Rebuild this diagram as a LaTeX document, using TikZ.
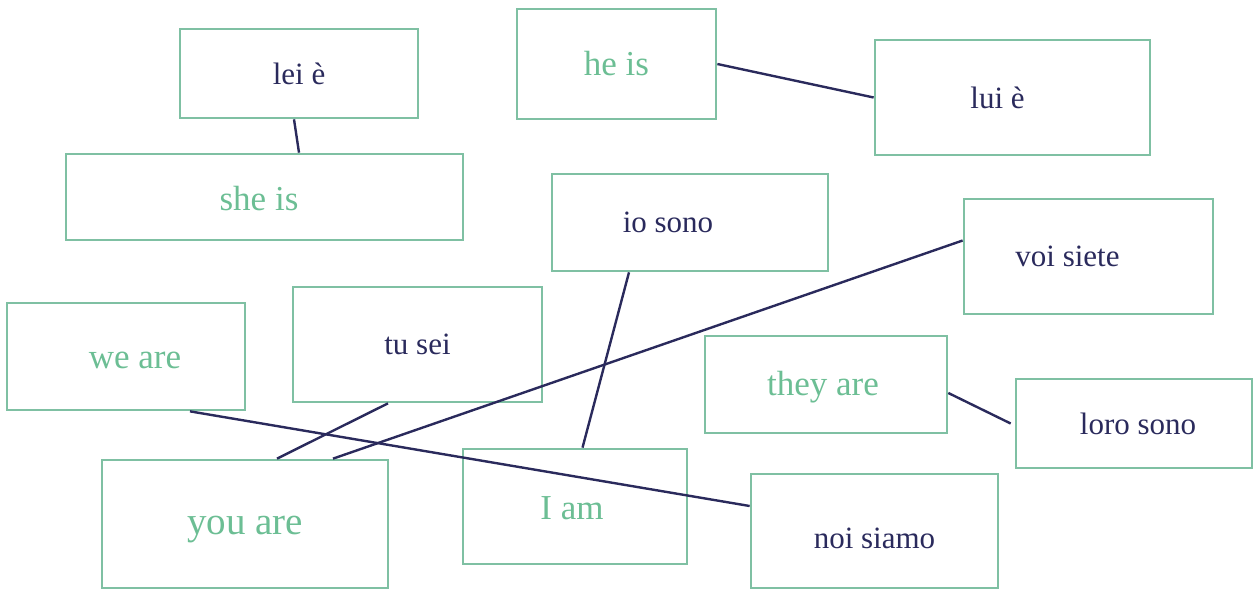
\documentclass[tikz,border=0pt]{standalone}
\usepackage{fontspec}
\setmainfont{Liberation Serif}
\usepackage{tikz}
\usetikzlibrary{positioning}

\definecolor{mintline}{RGB}{127,192,163}
\definecolor{mintword}{RGB}{108,190,148}
\definecolor{inkblue}{RGB}{42,42,92}

\tikzset{
  wordbox/.style={rectangle,draw=mintline,line width=1.35pt,inner sep=0pt},
  itword/.style={wordbox,text=inkblue,font=\fontsize{15.5}{18}\selectfont},
  enword/.style={wordbox,text=mintword,font=\fontsize{17.5}{20}\selectfont},
  link/.style={draw=inkblue,line width=1.2pt}
}

\begin{document}
\begin{tikzpicture}[x=0.5pt,y=-0.5pt]
\useasboundingbox (0,0) rectangle (1253,589);
\node[itword,minimum width=119pt,minimum height=44.5pt] (lei) at (299,73.5) {lei è};
\node[enword,text height=14pt,minimum width=198.5pt,minimum height=43pt] (she) at (264.5,197) {she is\rule{5.5pt}{0pt}};
\node[enword,minimum width=99.5pt,minimum height=55pt] (he) at (616.5,64) {he is};
\node[itword,minimum width=137.5pt,minimum height=57.5pt] (lui) at (1012.5,97.5) {lui è\rule{15pt}{0pt}};
\node[itword,minimum width=138pt,minimum height=48.5pt] (io) at (690,222.5) {io sono\rule{22pt}{0pt}};
\node[itword,minimum width=124.5pt,minimum height=57.5pt] (voi) at (1088.5,256.5) {voi siete\rule{21pt}{0pt}};
\node[enword,text height=12pt,minimum width=119pt,minimum height=53.5pt] (we) at (126,356.5) {\rule{9pt}{0pt}we are};
\node[itword,minimum width=124.5pt,minimum height=57.5pt] (tu) at (417.5,344.5) {tu sei};
\node[enword,text height=15pt,minimum width=121pt,minimum height=48.5pt] (they) at (826,384.5) {they are\rule{3pt}{0pt}};
\node[itword,minimum width=118pt,minimum height=44.5pt] (loro) at (1134,423.5) {\rule{4pt}{0pt}loro sono};
\node[enword,font=\fontsize{19.5}{22}\selectfont,text height=15pt,minimum width=143pt,minimum height=64pt] (you) at (245,524) {you are};
\node[enword,text height=13.6pt,minimum width=112pt,minimum height=57.5pt] (iam) at (575,506.5) {I am\rule{3pt}{0pt}};
\node[itword,text height=17.5pt,minimum width=123.5pt,minimum height=57pt] (noi) at (874.5,531) {noi siamo};

% links between the two languages
\draw[link] ([xshift=-2.5pt]lei.south) -- ([xshift=17.25pt]she.north);
\draw[link] (he.east) -- (lui.west);
\draw[link] ([xshift=-30.5pt]io.south) -- ([xshift=3.75pt]iam.north);
\draw[link] ([yshift=8pt]voi.west) -- ([xshift=44pt]you.north);
\draw[link] ([xshift=-14.75pt]tu.south) -- ([xshift=16pt]you.north);
\draw[link] ([xshift=32pt]we.south) -- ([yshift=12.5pt]noi.west);
\draw[link] ([yshift=-4.25pt]they.east) -- ([xshift=-2pt]loro.west);
\end{tikzpicture}
\end{document}
